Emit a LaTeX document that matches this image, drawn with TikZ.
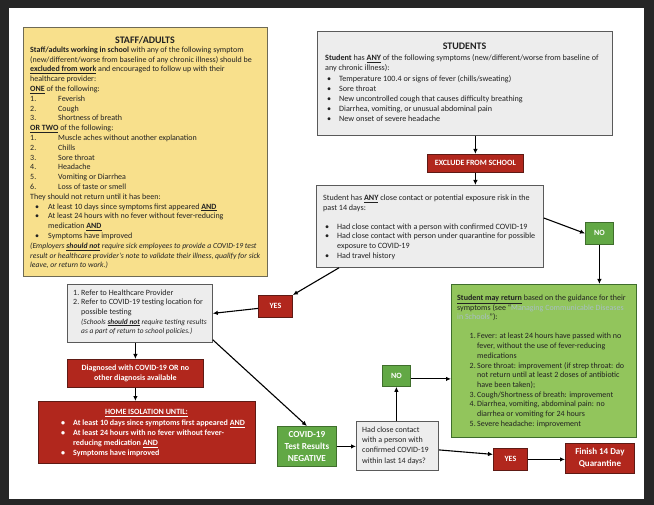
\documentclass[tikz,border=0pt]{standalone}
\usepackage{fontspec}
\setmainfont{Carlito}
\usetikzlibrary{arrows.meta,calc}
\definecolor{bgdark}{HTML}{262626}
\definecolor{staffy}{HTML}{F8E08C}
\definecolor{staffline}{HTML}{6E6A55}
\definecolor{redbox}{HTML}{B1271D}
\definecolor{redline}{HTML}{5E1A14}
\definecolor{grayfill}{HTML}{EDEDED}
\definecolor{grayline}{HTML}{5A5A5A}
\definecolor{greenbox}{HTML}{62A845}
\definecolor{greenline}{HTML}{3F6E2C}
\definecolor{lightgreen}{HTML}{92C55C}
\definecolor{linkc}{HTML}{A9BEC6}
\definecolor{txtdark}{HTML}{222222}
\newcommand{\nit}[1]{\makebox[28pt][l]{#1}}
\newcommand{\sbul}{\hspace*{5pt}\makebox[13pt][l]{\textbullet}}
\newcommand{\stbul}{\hspace*{2pt}\makebox[12pt][l]{\textbullet}}
\newcommand{\gnum}[1]{\hspace*{12.5pt}\makebox[7.5pt][l]{#1}}
\newcommand{\notefont}{\itshape\fontsize{7.7}{8}\selectfont}
\newcommand{\refnotefont}{\itshape\fontsize{7.4}{8}\selectfont}
\newcommand{\ubf}[1]{\textbf{\underline{#1}}}
\begin{document}
\begin{tikzpicture}[x=1pt,y=-1pt,
 box/.style={rectangle, anchor=north west, inner sep=0pt, line width=0.8pt},
 staffbox/.style={box, fill=staffy, draw=staffline},
 graybox/.style={box, fill=grayfill, draw=grayline},
 redb/.style={box, fill=redbox, draw=redline},
 greenb/.style={box, fill=greenbox, draw=greenline},
 lgreenb/.style={box, fill=lightgreen, draw=greenline},
 txt/.style={anchor=north west, inner sep=0pt, align=left, text=txtdark, font=\fontsize{8}{9.8}\selectfont},
 wtxt/.style={inner sep=0pt, align=center, text=white, font=\bfseries\fontsize{8}{10}\selectfont},
 ttl/.style={inner sep=0pt, text=txtdark, font=\bfseries\fontsize{10}{12}\selectfont},
 arr/.style={-{Latex[length=5pt,width=4.5pt]}, line width=1.1pt, black}
]
\fill[bgdark] (0,0) rectangle (654,505);
\fill[white] (9,8) rectangle (644,499);

% boxes
\node[staffbox, minimum width=244pt, minimum height=249pt] (staff) at (23,27) {};
\node[graybox, minimum width=295pt, minimum height=104pt] (students) at (317,31) {};
\node[redb, minimum width=96pt, minimum height=18pt] (exclude) at (427,154) {};
\node[graybox, minimum width=227pt, minimum height=82pt] (exposure) at (316,185) {};
\node[greenb, minimum width=28pt, minimum height=22pt] (no1) at (585,222) {};
\node[lgreenb, minimum width=185pt, minimum height=153pt] (ret) at (451,284) {};
\node[redb, minimum width=34pt, minimum height=22pt] (yes1) at (258,295) {};
\node[graybox, minimum width=145pt, minimum height=58pt] (refer) at (67,284) {};
\node[redb, minimum width=136pt, minimum height=28pt] (diag) at (67,359) {};
\node[redb, minimum width=217pt, minimum height=62pt] (home) at (38,401) {};
\node[greenb, minimum width=59pt, minimum height=40pt] (covid) at (277,426) {};
\node[graybox, minimum width=82pt, minimum height=49pt] (had) at (356,421) {};
\node[greenb, minimum width=28pt, minimum height=21pt] (no2) at (382,365) {};
\node[redb, minimum width=34pt, minimum height=22pt] (yes2) at (493,448) {};
\node[redb, minimum width=69pt, minimum height=30pt] (finish) at (565,443) {};

% staff text
\node[ttl] (stafftitle) at (145,40) {STAFF/ADULTS};
\node[txt] (stafftext) at (30,46.5) {%
\textbf{Staff/adults working in school} with any of the following symptom\\
(new/different/worse from baseline of any chronic illness) should be\\
\ubf{excluded from work} and encouraged to follow up with their\\
healthcare provider:\\
\ubf{ONE} of the following:\\
\nit{1.}Feverish\\
\nit{2.}Cough\\
\nit{3.}Shortness of breath\\
\ubf{OR TWO} of the following:\\
\nit{1.}Muscle aches without another explanation\\
\nit{2.}Chills\\
\nit{3.}Sore throat\\
\nit{4.}Headache\\
\nit{5.}Vomiting or Diarrhea\\
\nit{6.}Loss of taste or smell\\
They should not return until it has been:\\
\sbul At least 10 days since symptoms first appeared \ubf{AND}\\
\sbul At least 24 hours with no fever without fever-reducing\\
\hspace*{18pt}medication \ubf{AND}\\
\sbul Symptoms have improved\\
{\notefont (Employers \ubf{should not} require sick employees to provide a COVID-19 test}\\
{\notefont result or healthcare provider's note to validate their illness, qualify for sick}\\
{\notefont leave, or return to work.)}};

% students text
\node[ttl] (studtitle) at (464.5,46) {STUDENTS};
\node[txt, font=\fontsize{8.1}{10}\selectfont] (studtext) at (325,54.5) {%
\textbf{Student} has \ubf{ANY} of the following symptoms (new/different/worse from baseline of\\
any chronic illness):\\[1pt]
\stbul Temperature 100.4 or signs of fever (chills/sweating)\\
\stbul Sore throat\\
\stbul New uncontrolled cough that causes difficulty breathing\\
\stbul Diarrhea, vomiting, or unusual abdominal pain\\
\stbul New onset of severe headache};

\node[wtxt] (excludetext) at (exclude) {EXCLUDE FROM SCHOOL};

% exposure text
\node[txt, font=\fontsize{8.1}{9.7}\selectfont] (exptext) at (323,194.5) {%
Student has \ubf{ANY} close contact or potential exposure risk in the\\
past 14 days:\\[9.5pt]
\stbul Had close contact with a person with confirmed COVID-19\\
\stbul Had close contact with person under quarantine for possible\\
\hspace*{14pt}exposure to COVID-19\\
\stbul Had travel history};

\node[wtxt] (no1text) at (no1) {NO};
\node[wtxt] (yes1text) at (yes1) {YES};
\node[wtxt] (no2text) at (no2) {NO};
\node[wtxt] (yes2text) at (yes2) {YES};

% return text
\node[txt, font=\fontsize{8}{9.7}\selectfont] (rettext) at (457,294.5) {%
\ubf{Student may return} based on the guidance for their\\
symptoms (see “{\color{linkc}Managing Communicable Diseases}\\
{\color{linkc}in Schools}”):\\[9.5pt]
\gnum{1.}Fever: at least 24 hours have passed with no\\
\hspace*{20pt}fever, without the use of fever-reducing\\
\hspace*{20pt}medications\\
\gnum{2.}Sore throat: improvement (if strep throat: do\\
\hspace*{20pt}not return until at least 2 doses of antibiotic\\
\hspace*{20pt}have been taken);\\
\gnum{3.}Cough/Shortness of breath: improvement\\
\gnum{4.}Diarrhea, vomiting, abdominal pain: no\\
\hspace*{20pt}diarrhea or vomiting for 24 hours\\
\gnum{5.}Severe headache: improvement};

% refer text
\node[txt, font=\fontsize{8}{9.6}\selectfont] (refertext) at (73,289.5) {%
\makebox[8pt][l]{1.}Refer to Healthcare Provider\\
\makebox[8pt][l]{2.}Refer to COVID-19 testing location for\\
\hspace*{8pt}possible testing\\
\hspace*{8pt}{\refnotefont (Schools \ubf{should not} require testing results}\\
\hspace*{8pt}{\refnotefont as a part of return to school policies.)}};

\node[wtxt] (diagtext) at (diag) {Diagnosed with COVID-19 OR no\\other diagnosis available};

% home isolation text
\node[wtxt] (hometitle) at (146.5,413) {\underline{HOME ISOLATION UNTIL:}};
\node[txt, text=white, font=\bfseries\fontsize{8}{10}\selectfont] (hometext) at (61,419.5) {%
\makebox[12pt][l]{\textbullet}At least 10 days since symptoms first appeared \underline{AND}\\
\makebox[12pt][l]{\textbullet}At least 24 hours with no fever without fever-\\
\hspace*{12pt}reducing medication \underline{AND}\\
\makebox[12pt][l]{\textbullet}Symptoms have improved};

\node[wtxt, font=\bfseries\fontsize{9.2}{12}\selectfont] (covidtext) at (covid) {COVID-19\\Test Results\\NEGATIVE};
\node[txt, font=\fontsize{8}{10.3}\selectfont] (hadtext) at (362,426.5) {%
Had close contact\\with a person with\\confirmed COVID-19\\within last 14 days?};
\node[wtxt, font=\bfseries\fontsize{9}{12}\selectfont] (finishtext) at (finish) {Finish 14 Day\\Quarantine};

% connectors
\draw[arr] (students.south -| exclude.north) -- (exclude.north);
\draw[arr] (exclude.south) -- (exclude.south |- exposure.north);
\draw[arr] ($(exposure.north east)+(0,33)$) -- (no1.west);
\draw[arr] (no1.south) -- (no1.south |- ret.north);
\draw[arr] ($(exposure.south west)+(23,0)$) -- (yes1.north east);
\draw[arr] ($(yes1.west)+(0,2)$) -- (refer.east);
\draw[arr] (diag.north |- refer.south) -- (diag.north);
\draw[arr] (diag.south) -- (diag.south |- home.north);
\draw[arr] ($(refer.south east)+(0,-3)$) -- (covid.north);
\draw[arr] (covid.east) -- (covid.east -| had.west);
\draw[arr] (no2.south |- had.north) -- (no2.south);
\draw[arr] ($(no2.east)+(0,3)$) -- ($(no2.east -| ret.west)+(0,3)$);
\draw[arr] ($(had.east)+(0,4)$) -- ($(yes2.west)+(0,-5)$);
\draw[arr] (yes2.east) -- (yes2.east -| finish.west);
\end{tikzpicture}
\end{document}
